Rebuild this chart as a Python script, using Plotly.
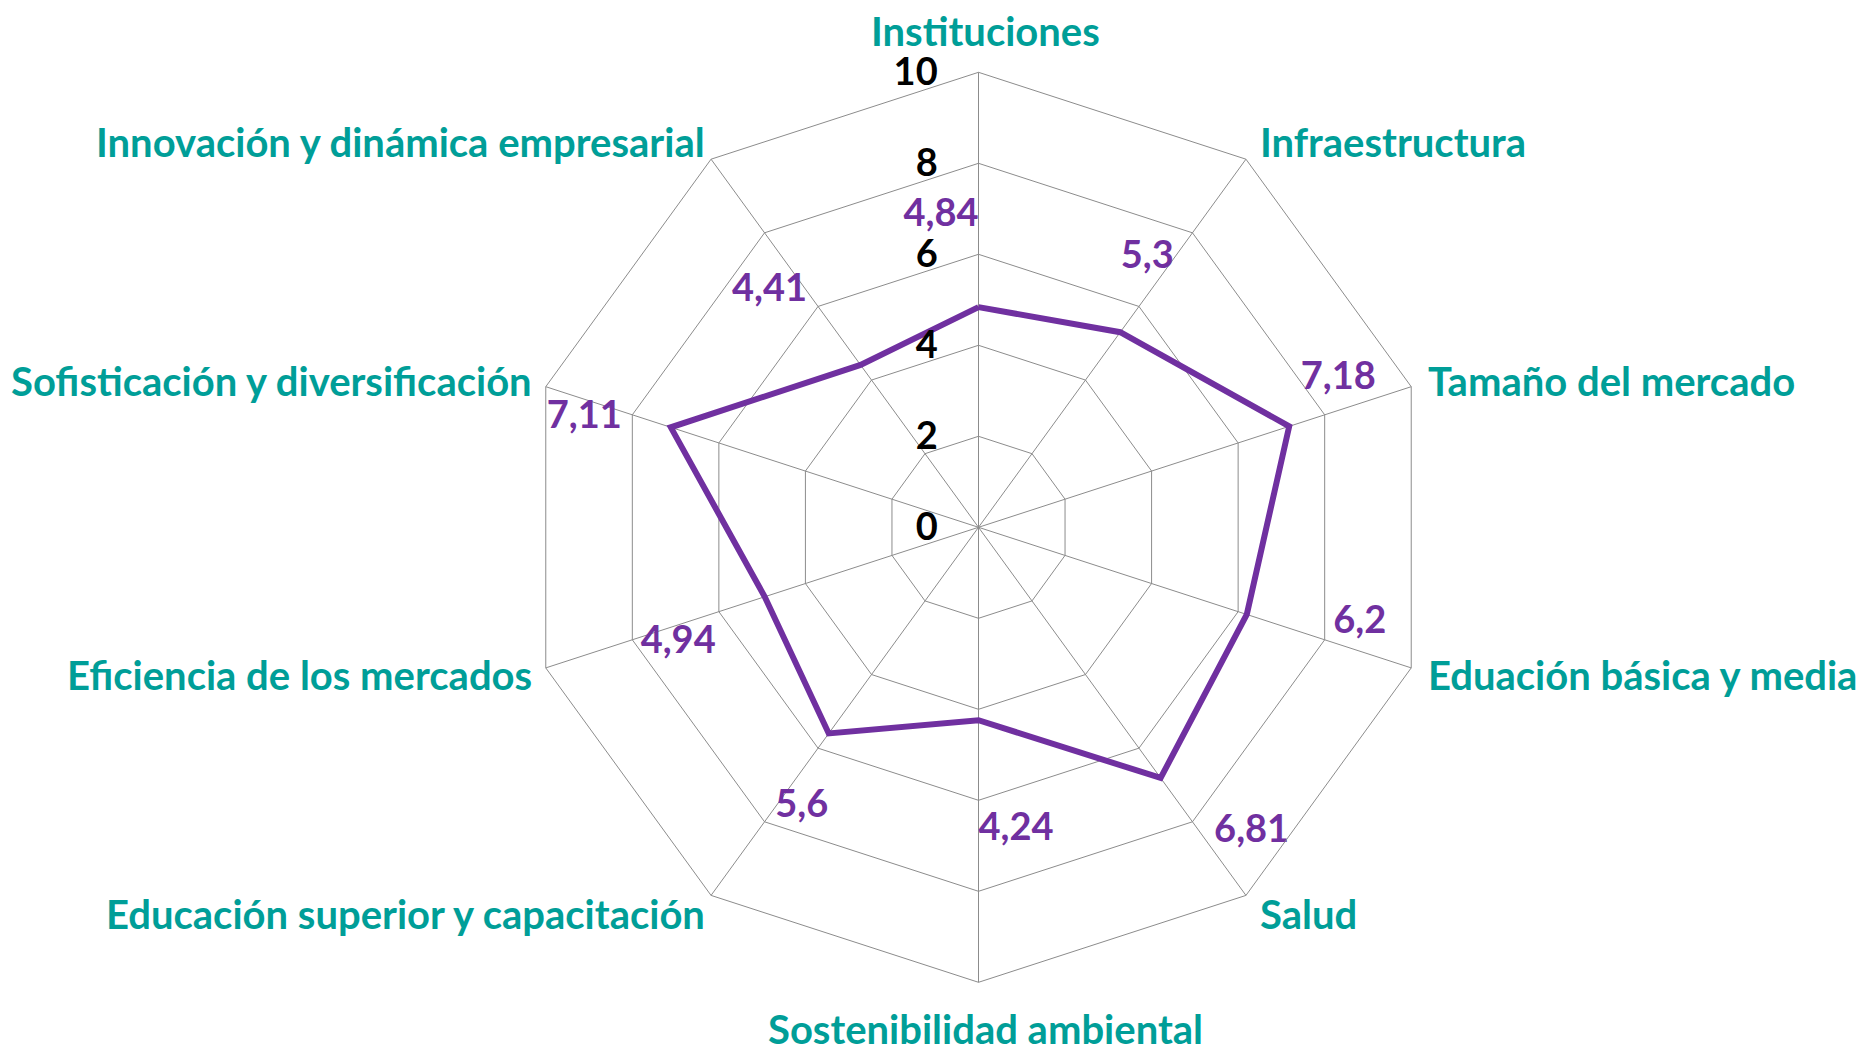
import math
import plotly.graph_objects as go

categories = ["Instituciones", "Infraestructura", "Tamaño del mercado", "Eduación básica y media",
              "Salud", "Sostenibilidad ambiental", "Educación superior y capacitación",
              "Eficiencia de los mercados", "Sofisticación y diversificación",
              "Innovación y dinámica empresarial"]
values = [4.84, 5.3, 7.18, 6.2, 6.81, 4.24, 5.6, 4.94, 7.11, 4.41]
radial_ticks = [0, 2, 4, 6, 8, 10]

W, H = 1870, 1050
CX, CY, R = 978, 528, 455
DX, DY = -7.5, -8.7  # plotly domain placement correction
PURPLE = "#7030A0"
TEAL = "#009E98"
GRID = "#8C8C8C"
FONT = "Lato"
FS = 38
FS_CAT = 40

dcx, dcy = CX + DX, CY + DY
dom_x = [(dcx - R) / W, (dcx + R) / W]
dom_y = [1 - (dcy + R) / H, 1 - (dcy - R) / H]

label_pos = ["middle left", "middle left", "top left", "top right", "top right",
             "bottom right", "middle right", "bottom center", "bottom center", "middle left"]

fig = go.Figure()
fig.add_trace(go.Scatterpolar(
    r=values + values[:1], theta=categories + categories[:1],
    mode="lines", line=dict(color=PURPLE, width=6), hoverinfo="skip", showlegend=False))
fig.add_trace(go.Scatterpolar(
    r=[v + 2 for v in values], theta=categories, mode="text",
    text=[str(v).replace(".", ",") for v in values], textposition=label_pos,
    textfont=dict(family=FONT, size=FS, color=PURPLE, weight=700),
    cliponaxis=False, hoverinfo="skip", showlegend=False))

annotations = []
n = len(categories)
for k, cat in enumerate(categories):
    ang = math.radians(k * 360 / n)
    s = math.sin(ang)
    c = math.cos(ang)
    if abs(s) < 1e-6:
        xa = "center"
        px = CX
        py = CY - (R + 44) * c - 6
    else:
        xa = "left" if s > 0 else "right"
        dx = R + (8 if s > 0 else 20)
        px = CX + dx * s
        py = CY - (R + 22) * c - 8
    annotations.append(dict(x=px / W, y=1 - py / H, xref="paper", yref="paper",
                            text=cat, showarrow=False, xanchor=xa, yanchor="middle",
                            font=dict(family=FONT, size=FS_CAT, color=TEAL, weight=700)))

fig.update_layout(
    width=W, height=H, margin=dict(l=0, r=0, t=0, b=0),
    paper_bgcolor="white", plot_bgcolor="white",
    annotations=annotations,
    polar=dict(
        domain=dict(x=dom_x, y=dom_y),
        gridshape="linear", bgcolor="white",
        angularaxis=dict(rotation=90, direction="clockwise", showticklabels=False,
                         ticks="", linecolor=GRID, linewidth=1, gridcolor=GRID, gridwidth=1,
                         showline=True),
        radialaxis=dict(range=[0, 10], tickvals=radial_ticks, angle=90,
                        side="counterclockwise", showline=False, ticks="outside",
                        ticklen=27, tickcolor="rgba(0,0,0,0)", gridcolor=GRID, gridwidth=1,
                        tickangle=90,
                        tickfont=dict(family=FONT, size=FS, color="black", weight=700)),
    ),
)

fig.write_html("out.html")
